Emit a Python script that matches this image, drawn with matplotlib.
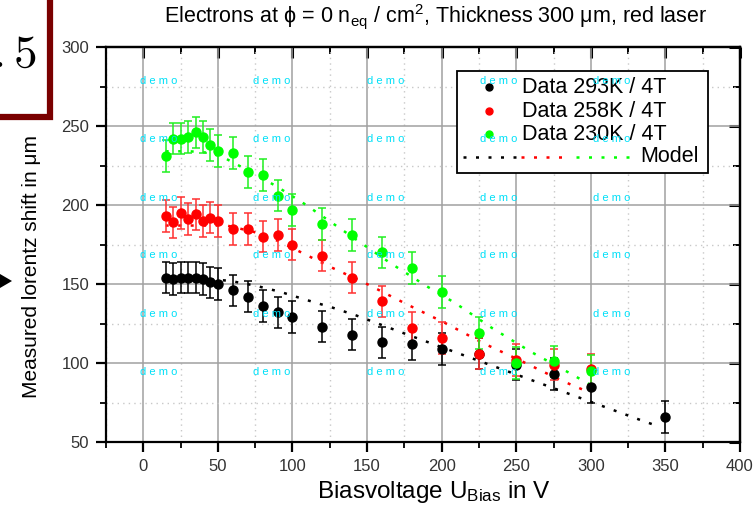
import matplotlib.pyplot as plt
from matplotlib.patches import Rectangle, Polygon
from matplotlib.ticker import MultipleLocator

# bias voltage (V) and measured lorentz shift (um), error ~ +-10 um
volt = [15, 20, 25, 30, 35, 40, 45, 50, 60, 70, 80, 90, 100, 120, 140, 160, 180, 200, 225, 250, 275, 300]
volt_293 = volt + [350]
shift_293 = [154, 153, 154, 154, 154, 153, 151, 150, 146, 142, 136, 132, 129, 123, 118, 113, 112, 109, 106, 99, 93, 85, 66]
shift_258 = [193, 189, 195, 191, 194, 190, 192, 190, 185, 185, 180, 181, 175, 168, 154, 139, 122, 116, 106, 102, 99, 96]
shift_230 = [231, 242, 242, 243, 246, 243, 238, 234, 233, 221, 219, 206, 197, 188, 181, 170, 160, 145, 119, 100, 101, 95]
err_293 = [10] * len(shift_293)
err_258 = [10] * len(shift_258)
err_230 = [10] * len(shift_230)

# model curves
model_x_293 = [45, 58, 75, 92, 109, 127, 143, 160, 177, 200, 229, 255, 281, 307, 333, 345]
model_y_293 = [153, 152, 149, 145, 140, 135, 130, 124, 118, 110, 100, 91, 82, 73, 64, 60]
model_x_258 = [15, 40, 56, 74, 91, 108, 125, 151, 177, 203, 228, 254, 280, 300]
model_y_258 = [187, 187, 187, 183, 177, 169, 161, 149.5, 137, 125, 112.5, 101, 89, 81]
model_x_230 = [15, 31, 45, 56, 64, 89, 106, 123, 149, 166, 191, 209, 234, 260, 287, 300]
model_y_230 = [234, 234, 233, 229, 225, 212, 202, 191, 174, 163, 148, 138, 122, 107, 93, 86]

labels = ['Data 293K / 4T', 'Data 258K / 4T', 'Data 230K / 4T']
colors = ['black', '#ff0000', '#00ff00']
err_colors = ['black', '#ff3030', '#20f020']

plt.rcParams['font.family'] = ['Liberation Sans', 'DejaVu Sans']
plt.rcParams['mathtext.fontset'] = 'custom'
plt.rcParams['mathtext.rm'] = 'Liberation Sans'
plt.rcParams['mathtext.it'] = 'Liberation Sans'

W, H = 756, 508
fig = plt.figure(figsize=(W / 100, H / 100), dpi=100)
ax = fig.add_axes([106 / W, 1 - 442 / H, 634 / W, 395 / H])

dots = (0, (1.2, 3.8))
for mx, my, c in zip([model_x_293, model_x_258, model_x_230],
                     [model_y_293, model_y_258, model_y_230], colors):
    ax.plot(mx, my, color=c, lw=1.8, ls=dots, dash_capstyle='butt', zorder=2)

for x, y, e, c, ec in zip([volt_293, volt, volt], [shift_293, shift_258, shift_230],
                          [err_293, err_258, err_230], colors, err_colors):
    ax.errorbar(x, y, yerr=e, fmt='o', color=c, ecolor=ec, ms=6.5, capsize=3.2,
                elinewidth=1.1, capthick=1.1, zorder=3)

ax.set_xlim(-25, 400)
ax.set_ylim(50, 300)
ax.xaxis.set_major_locator(MultipleLocator(50))
ax.xaxis.set_minor_locator(MultipleLocator(25))
ax.yaxis.set_major_locator(MultipleLocator(50))
ax.yaxis.set_minor_locator(MultipleLocator(25))
ax.grid(which='major', color='#a0a0a0', lw=1.1)
ax.grid(which='minor', color='#c8c8c8', lw=1.0, ls=(0, (1, 3)))
ax.set_axisbelow(True)
for s in ax.spines.values():
    s.set_linewidth(1.6)
ax.tick_params(which='major', direction='out', length=7, width=1.6,
               labelsize=12, labelcolor='#333333', pad=5)
ax.tick_params(which='minor', direction='out', length=4, width=1.3)

for side in ['top', 'right']:
    sec = ax.secondary_xaxis('top') if side == 'top' else ax.secondary_yaxis('right')
    sec.spines[side].set_linewidth(1.6)
    axis = sec.xaxis if side == 'top' else sec.yaxis
    axis.set_major_locator(MultipleLocator(50))
    axis.set_minor_locator(MultipleLocator(25))
    sec.tick_params(which='major', direction='in', length=8, width=2.2,
                    labelleft=False, labelright=False, labeltop=False, labelbottom=False)
    sec.tick_params(which='minor', direction='in', length=5, width=1.4)

# legend drawn by hand to mimic the original layout
def frac(px, py):
    return (px - 106) / 634, 1 - (py - 47) / 395

bx, by = frac(457, 173)
bx2, by2 = frac(708, 71)
ax.add_patch(Rectangle((bx, by), bx2 - bx, by2 - by, transform=ax.transAxes,
                       facecolor='white', edgecolor='black', lw=1.3, zorder=5))
for lab, c, py in zip(labels, colors, [87, 111, 134]):
    mx, my = frac(489, py)
    ax.plot([mx], [my], 'o', color=c, ms=5, transform=ax.transAxes, zorder=6)
    tx, ty = frac(522, py)
    ax.text(tx, ty, lab, transform=ax.transAxes, fontsize=15.5, va='center', zorder=6)
for c, (p0, p1) in zip(colors, [(463, 518), (521, 565), (576, 635)]):
    x0, y0 = frac(p0, 157)
    x1, _ = frac(p1, 157)
    ax.plot([x0, x1], [y0, y0], color=c, lw=1.8, ls=dots, dash_capstyle='butt',
            transform=ax.transAxes, zorder=6)
tx, ty = frac(640, 157)
ax.text(tx, ty, 'Model', transform=ax.transAxes, fontsize=15.5, va='center', zorder=6)

# watermark
for px in [140, 253, 367, 480, 593]:
    for py in [81, 139, 198, 255, 314, 372]:
        fig.text(px / W, 1 - py / H, 'd e m o', color='#00e0f8', fontsize=8,
                 va='center', ha='left', zorder=10)

fig.text(436 / W, 1 - 17 / H,
         r'Electrons at ϕ = 0 n$_{\mathregular{eq}}$ / cm$^{\mathregular{2}}$, Thickness 300 μm, red laser',
         fontsize=15.5, ha='center', va='center')
fig.text(434 / W, 1 - 492 / H, r'Biasvoltage U$_{\mathregular{Bias}}$ in V',
         fontsize=17.5, ha='center', va='center')
fig.text(32 / W, 1 - 267 / H, 'Measured lorentz shift in μm', rotation=90,
         fontsize=15, ha='center', va='center',
         family=['Liberation Sans Narrow', 'Liberation Sans', 'DejaVu Sans'])

# cropped slide decorations on the left
fig.patches.append(Rectangle((-20 / W, 1 - 117 / H), 70 / W, 140 / H, transform=fig.transFigure,
                             facecolor='white', edgecolor='#7a0000', lw=4.5))
fig.text(37 / W, 1 - 55 / H, r'$.5$', fontsize=34, ha='right', va='center',
         math_fontfamily='cm')
fig.patches.append(Polygon([[0, 1 - 274 / H], [12 / W, 1 - 281 / H], [0, 1 - 288 / H]],
                           closed=True, transform=fig.transFigure, facecolor='black'))

fig.savefig('out.png', dpi=100)
